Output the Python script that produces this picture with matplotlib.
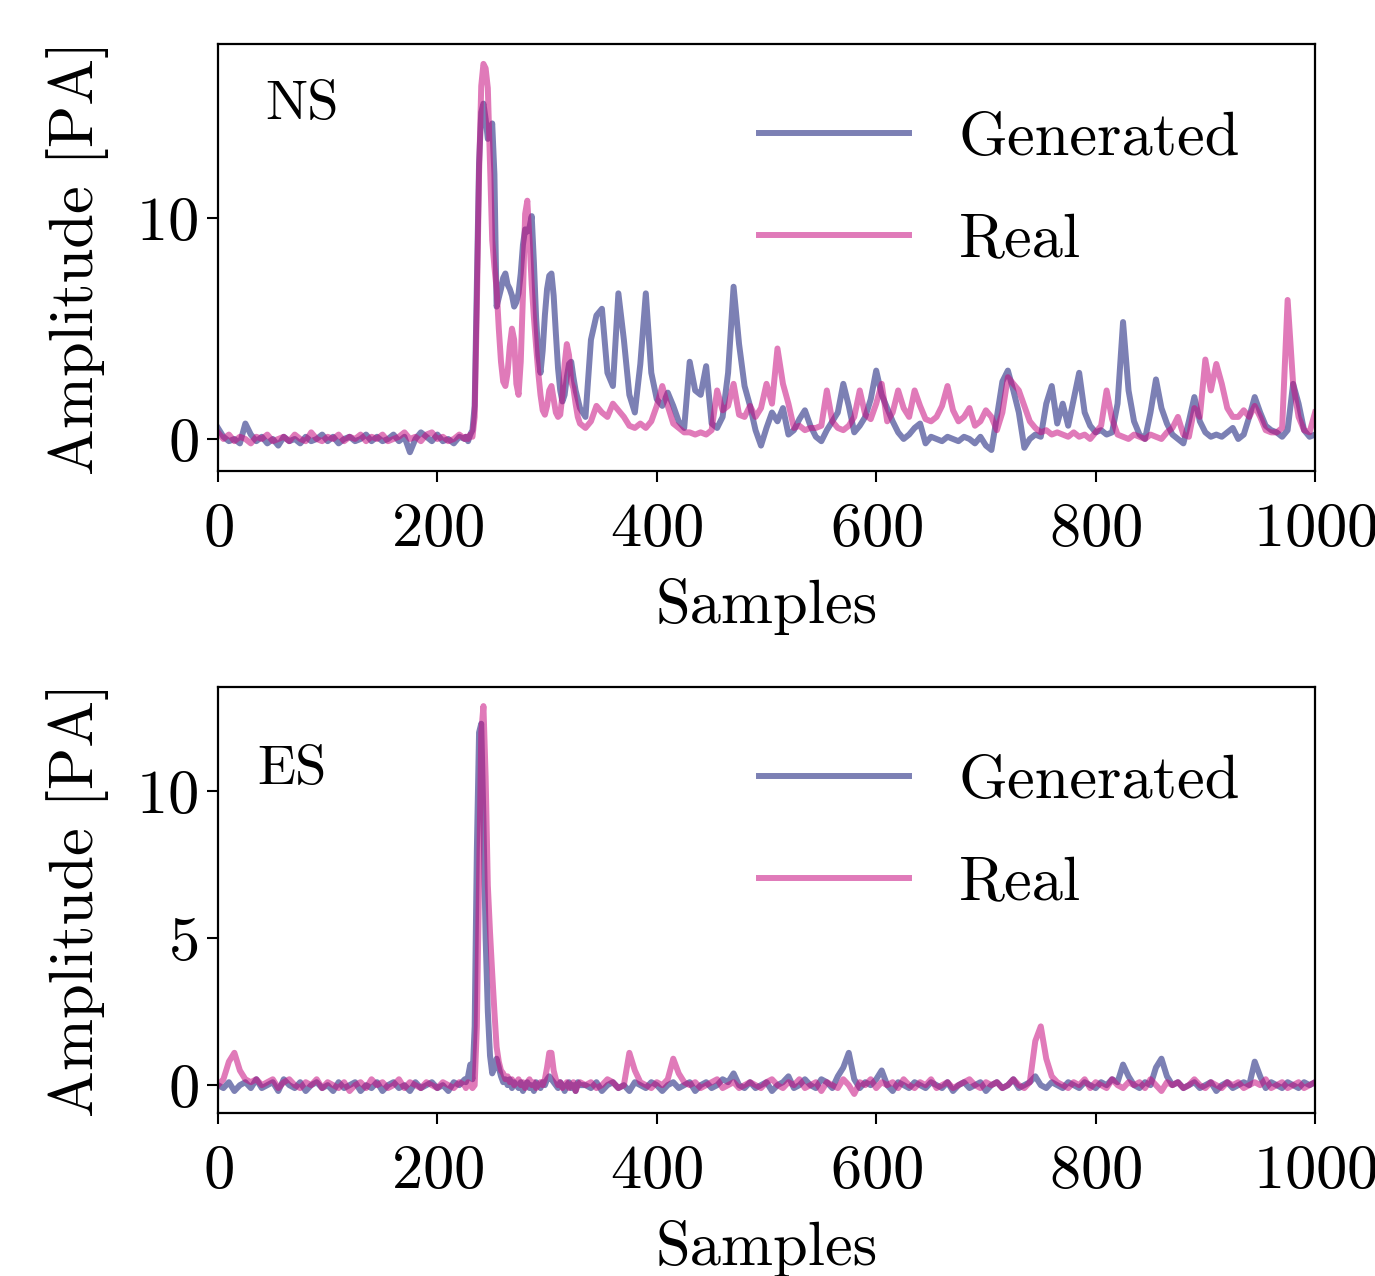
#!/usr/bin/env python3
"""Generated vs real waveforms for the NS and ES components."""

import matplotlib

matplotlib.use("Agg")
import matplotlib.pyplot as plt
import numpy as np

plt.rcParams["font.family"] = "serif"
plt.rcParams["font.serif"] = ["cmr10"]
plt.rcParams["mathtext.fontset"] = "cm"
plt.rcParams["axes.unicode_minus"] = False
plt.rcParams["axes.formatter.use_mathtext"] = True

# sample grid the traces were read on (finer around the first arrival)
SAMPLES = np.concatenate([np.arange(0, 226, 5), np.arange(226, 331, 2), np.arange(335, 1001, 5)])

# ---- NS component ----
NS_GENERATED = [
    # 0..225 step 5
    0.5, 0.1, -0.1, 0.0, -0.2, 0.7, 0.2, -0.1, 0.1, -0.2,
    0.0, -0.3, 0.1, -0.1, 0.0, -0.2, 0.1, -0.1, 0.0, 0.2,
    -0.1, 0.1, -0.2, 0.0, 0.1, -0.1, 0.0, 0.2, -0.1, 0.1,
    -0.1, 0.0, 0.2, -0.1, 0.1, -0.6, 0.0, 0.3, 0.1, -0.1,
    0.2, -0.1, 0.0, -0.2, 0.1, 0.0,
    # 226..330 step 2
    0.1, -0.1, 0.2, 0.4, 1.5, 7.0, 12.5, 14.8, 15.2, 14.5,
    13.6, 13.8, 14.3, 12.0, 6.0, 6.4, 6.8, 7.3, 7.5, 7.0,
    6.8, 6.5, 6.0, 6.2, 6.6, 7.5, 8.8, 9.5, 9.4, 9.6,
    10.1, 8.0, 5.5, 3.8, 3.0, 4.0, 5.6, 6.8, 7.4, 7.5,
    6.5, 4.8, 3.2, 2.2, 1.7, 2.0, 2.8, 3.4, 3.5, 2.8,
    2.2, 1.8, 1.4,
    # 335..1000 step 5
    1.0, 4.5, 5.6, 5.9, 3.0, 2.4, 6.6, 4.5, 2.0, 1.2,
    3.4, 6.6, 3.0, 1.8, 1.5, 2.1, 1.5, 0.8, 0.5, 3.5,
    2.2, 2.0, 3.3, 0.7, 0.5, 1.0, 3.0, 6.9, 4.3, 2.4,
    1.5, 0.4, -0.3, 0.5, 1.2, 0.8, 1.4, 0.2, 0.4, 0.9,
    1.3, 0.6, 0.1, -0.1, 0.4, 0.8, 1.2, 2.5, 1.5, 0.3,
    0.6, 1.0, 1.8, 3.1, 2.0, 1.4, 0.8, 0.3, 0.0, 0.2,
    0.5, 0.7, -0.2, 0.1, 0.0, -0.1, 0.1, 0.0, -0.1, 0.1,
    0.0, -0.2, 0.1, -0.3, -0.5, 1.0, 2.6, 3.1, 2.2, 1.2,
    -0.4, 0.0, 0.2, 0.1, 1.6, 2.4, 0.7, 1.6, 0.6, 1.8,
    3.0, 1.2, 0.6, 0.3, 0.4, 0.2, 0.3, 1.6, 5.3, 2.2,
    0.8, 0.2, 0.0, 1.2, 2.7, 1.4, 0.7, 0.2, 0.0, -0.2,
    0.8, 1.9, 0.8, 0.3, 0.1, 0.2, 0.1, 0.3, 0.5, 0.0,
    0.2, 1.0, 1.9, 1.2, 0.6, 0.4, 0.3, 0.1, 0.4, 2.5,
    1.6, 0.4, 0.1, 0.2,
]
NS_REAL = [
    # 0..225 step 5
    0.3, 0.0, 0.2, -0.1, 0.1, 0.0, -0.2, 0.1, 0.0, 0.2,
    -0.1, 0.0, 0.1, -0.1, 0.2, 0.0, -0.1, 0.3, 0.0, -0.1,
    0.1, 0.0, 0.2, -0.1, 0.1, 0.0, 0.2, -0.1, 0.1, 0.0,
    0.2, -0.1, 0.0, 0.1, 0.3, 0.0, 0.1, -0.1, 0.2, 0.3,
    0.0, 0.1, -0.1, 0.0, 0.2, 0.0,
    # 226..330 step 2
    0.1, 0.0, 0.2, 0.1, 1.0, 6.0, 12.0, 16.0, 17.0, 16.8,
    15.9, 12.5, 9.0, 7.8, 6.8, 5.0, 3.5, 2.6, 2.4, 3.0,
    4.2, 5.0, 4.5, 2.5, 2.0, 3.5, 6.5, 10.2, 10.8, 9.0,
    7.0, 5.5, 4.2, 3.0, 2.0, 1.3, 1.1, 1.5, 2.2, 2.4,
    1.8, 1.2, 1.0, 1.1, 2.0, 3.4, 4.3, 3.8, 2.6, 2.3,
    1.6, 1.0, 0.7,
    # 335..1000 step 5
    0.5, 0.8, 1.5, 1.2, 1.0, 1.6, 1.3, 1.0, 0.6, 0.5,
    0.7, 0.5, 0.8, 1.5, 2.4, 1.5, 0.7, 0.5, 0.3, 0.3,
    0.2, 0.3, 0.2, 0.4, 2.2, 1.3, 1.5, 2.5, 1.1, 1.0,
    1.5, 1.0, 1.4, 2.5, 1.6, 4.1, 2.5, 1.6, 0.5, 0.6,
    0.4, 0.5, 0.5, 0.6, 2.2, 0.8, 0.5, 0.4, 0.6, 1.0,
    2.2, 1.1, 0.9, 1.6, 2.5, 0.8, 1.2, 2.2, 1.4, 1.0,
    2.2, 1.5, 0.9, 0.8, 1.0, 1.5, 2.4, 1.3, 0.8, 1.0,
    1.4, 0.6, 0.8, 1.3, 1.0, 0.4, 1.2, 2.8, 2.5, 2.2,
    1.5, 0.8, 0.5, 0.3, 0.4, 0.2, 0.3, 0.2, 0.1, 0.3,
    0.1, 0.2, 0.0, 0.3, 0.6, 2.2, 0.9, 0.2, 0.1, 0.0,
    0.2, 0.1, 0.0, 0.2, 0.1, 0.0, 0.3, 0.5, 1.0, 0.2,
    0.1, 1.4, 1.0, 3.6, 2.2, 3.4, 2.5, 1.4, 1.0, 1.0,
    1.3, 1.0, 1.5, 1.0, 0.4, 0.3, 0.3, 0.5, 6.3, 2.5,
    1.0, 0.4, 0.3, 1.2,
]

# ---- ES component ----
ES_GENERATED = [
    # 0..225 step 5
    0.0, -0.1, 0.1, -0.2, 0.0, 0.1, -0.1, 0.2, -0.1, 0.0,
    0.1, -0.2, 0.2, 0.0, -0.1, 0.1, -0.2, 0.0, 0.1, -0.1,
    0.0, -0.2, 0.1, -0.1, 0.0, 0.1, -0.2, 0.0, -0.1, 0.1,
    -0.2, 0.0, 0.1, -0.1, 0.0, -0.2, 0.1, -0.1, 0.0, 0.1,
    -0.1, 0.0, -0.2, 0.1, 0.0, 0.2,
    # 226..330 step 2
    0.1, 0.3, 0.7, 0.2, 2.0, 8.0, 12.0, 12.3, 9.0, 5.0,
    2.5, 1.0, 0.4, 0.6, 0.9, 0.6, 0.3, 0.1, 0.2, 0.0,
    0.2, -0.1, 0.1, 0.0, -0.1, 0.1, -0.2, 0.0, 0.1, -0.1,
    0.0, -0.2, 0.1, 0.0, -0.1, 0.1, 0.0, 0.2, 0.3, 0.2,
    0.1, 0.0, -0.1, 0.1, 0.0, -0.2, 0.0, 0.1, -0.1, 0.0,
    -0.2, 0.1, 0.0,
    # 335..1000 step 5
    0.0, -0.1, 0.1, -0.2, 0.0, 0.1, -0.1, 0.0, -0.2, 0.1,
    0.0, -0.1, 0.1, 0.0, -0.2, 0.0, 0.1, -0.1, 0.0, 0.1,
    -0.2, 0.0, 0.1, -0.1, 0.0, 0.2, 0.1, 0.4, 0.0, -0.1,
    0.1, -0.1, 0.0, 0.1, -0.2, 0.0, 0.1, 0.3, -0.1, 0.0,
    0.2, 0.0, -0.1, 0.2, 0.1, -0.1, 0.3, 0.6, 1.1, 0.2,
    -0.1, 0.1, 0.0, 0.2, 0.5, 0.0, -0.2, 0.1, 0.0, -0.1,
    0.1, 0.0, -0.1, 0.1, 0.0, -0.1, 0.1, -0.2, 0.0, 0.1,
    -0.1, 0.0, 0.1, -0.2, 0.0, 0.1, -0.1, 0.0, 0.2, -0.1,
    0.0, 0.1, 0.3, 0.0, -0.1, 0.1, 0.0, -0.1, 0.1, 0.0,
    -0.1, 0.1, 0.0, -0.1, 0.1, 0.0, 0.2, 0.1, 0.7, 0.3,
    0.0, -0.1, 0.1, 0.0, 0.6, 0.9, 0.3, 0.0, 0.1, -0.1,
    0.0, 0.1, -0.1, 0.0, 0.1, -0.2, 0.0, 0.1, -0.1, 0.0,
    0.1, 0.0, 0.8, 0.3, -0.1, 0.1, 0.0, -0.1, 0.1, 0.0,
    -0.1, 0.1, 0.0, 0.1,
]
ES_REAL = [
    # 0..225 step 5
    0.0, 0.2, 0.8, 1.1, 0.5, 0.2, 0.1, 0.2, 0.0, 0.1,
    0.2, -0.1, 0.1, 0.2, 0.0, -0.1, 0.1, 0.0, 0.2, -0.1,
    0.1, 0.0, -0.1, 0.1, -0.2, 0.0, 0.1, -0.1, 0.2, 0.0,
    0.1, -0.1, 0.0, 0.2, -0.1, 0.1, 0.0, -0.1, 0.1, 0.0,
    -0.1, 0.1, 0.0, -0.1, 0.1, 0.0,
    # 226..330 step 2
    -0.1, 0.1, 0.0, -0.1, 0.0, 2.0, 7.0, 12.0, 12.9, 10.5,
    6.8, 5.2, 3.8, 2.5, 1.3, 0.8, 0.5, 0.4, 0.2, 0.3,
    0.1, 0.2, 0.0, 0.1, 0.2, 0.0, 0.1, -0.1, 0.1, 0.2,
    0.0, 0.1, -0.1, 0.0, 0.1, 0.0, 0.2, 0.6, 1.1, 1.1,
    0.5, 0.2, 0.0, 0.1, -0.1, 0.0, 0.1, -0.1, 0.0, 0.1,
    -0.2, 0.0, 0.1,
    # 335..1000 step 5
    0.0, 0.1, -0.1, 0.0, 0.2, 0.1, -0.1, 0.0, 1.1, 0.5,
    0.1, 0.0, -0.1, 0.1, 0.0, 0.2, 0.9, 0.4, 0.1, 0.0,
    0.1, -0.1, 0.0, 0.1, 0.2, -0.1, 0.0, 0.1, -0.1, 0.0,
    0.1, 0.0, -0.1, 0.1, 0.2, 0.0, -0.1, 0.1, 0.0, 0.2,
    -0.1, 0.0, 0.1, -0.2, 0.1, 0.0, -0.1, 0.2, 0.0, -0.3,
    0.1, 0.0, 0.2, -0.1, 0.1, 0.0, 0.1, -0.1, 0.2, 0.0,
    -0.1, 0.1, 0.0, 0.2, -0.1, 0.0, 0.1, -0.1, 0.0, 0.1,
    0.2, 0.0, -0.1, 0.1, 0.0, 0.1, -0.1, 0.0, 0.2, 0.0,
    -0.1, 0.1, 1.5, 2.0, 0.9, 0.3, 0.1, 0.0, -0.1, 0.1,
    0.0, 0.2, -0.1, 0.1, 0.0, -0.1, 0.2, 0.0, -0.1, 0.1,
    0.0, 0.1, -0.1, 0.2, 0.0, -0.2, 0.1, 0.0, 0.1, -0.1,
    0.0, 0.2, 0.0, -0.1, 0.1, 0.0, -0.1, 0.1, 0.0, 0.1,
    -0.1, 0.0, 0.1, 0.0, 0.2, -0.1, 0.0, 0.1, -0.1, 0.0,
    0.1, -0.1, 0.0, 0.1,
]

PANELS = [
    ("NS", NS_GENERATED, NS_REAL, (-1.45, 17.9), [0, 10], (0.043, 0.857)),
    ("ES", ES_GENERATED, ES_REAL, (-0.95, 13.55), [0, 5, 10], (0.036, 0.805)),
]

GEN_COLOR = "#111877"
REAL_COLOR = "#c70d80"
FONT_SIZE = 45


def main() -> None:
    fig = plt.figure(figsize=(13.75, 12.76), dpi=100)
    boxes = [
        (0.1585, 0.6309, 0.7979, 0.3346),
        (0.1585, 0.1277, 0.7979, 0.3339),
    ]

    for box, (name, generated, real, ylim, yticks, tag_pos) in zip(boxes, PANELS):
        ax = fig.add_axes(box)
        ax.plot(SAMPLES, generated, color=GEN_COLOR, alpha=0.55, linewidth=4.3, label="Generated")
        ax.plot(SAMPLES, real, color=REAL_COLOR, alpha=0.55, linewidth=4.3, label="Real")
        ax.set_xlim(0, 1000)
        ax.set_ylim(*ylim)
        ax.set_xticks([0, 200, 400, 600, 800, 1000])
        ax.set_yticks(yticks)
        ax.tick_params(labelsize=FONT_SIZE, length=8, width=1.5)
        ax.tick_params(axis="x", pad=15)
        ax.tick_params(axis="y", pad=6)
        for spine in ax.spines.values():
            spine.set_linewidth(1.6)
        ax.set_xlabel("Samples", fontsize=FONT_SIZE, labelpad=14)
        ax.set_ylabel("Amplitude [PA]", fontsize=FONT_SIZE, labelpad=20)
        ax.text(*tag_pos, name, transform=ax.transAxes, fontsize=FONT_SIZE * 0.9,
                ha="left", va="center")
        ax.legend(loc="upper right", bbox_to_anchor=(0.983, 0.975), frameon=False,
                  fontsize=FONT_SIZE, handlelength=2.4, handletextpad=0.8, labelspacing=0.75)

    fig.savefig("out.png", dpi=100)
    plt.close(fig)


if __name__ == "__main__":
    main()
